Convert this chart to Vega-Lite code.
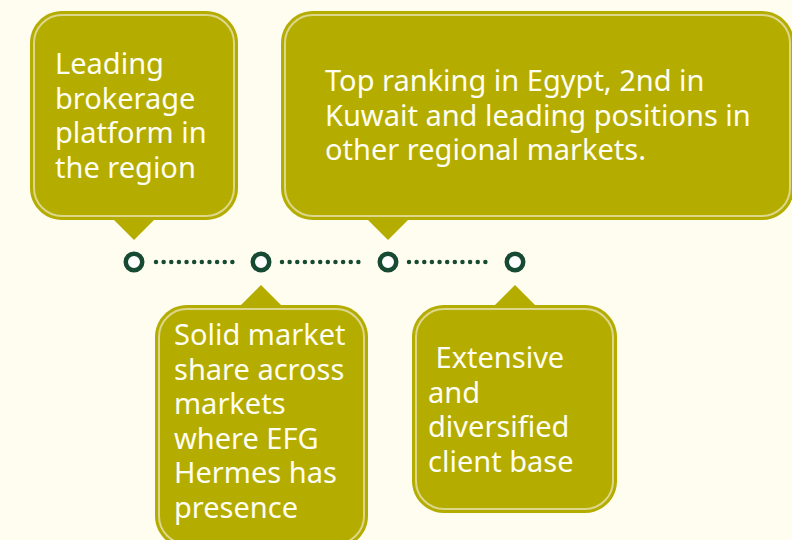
{
  "$schema": "https://vega.github.io/schema/vega-lite/v6.json",
  "width": 792,
  "height": 540,
  "padding": 0,
  "autosize": {"type": "fit", "contains": "padding"},
  "background": "#FFFDF0",
  "config": {"view": {"stroke": null}},
  "datasets": {
    "boxes": [
      {"id": "b1", "x": 30, "x2": 238, "y": 11, "y2": 220},
      {"id": "b2", "x": 281, "x2": 794, "y": 11, "y2": 220},
      {"id": "b3", "x": 155, "x2": 368, "y": 305, "y2": 548},
      {"id": "b4", "x": 412, "x2": 617, "y": 305, "y2": 513}
    ],
    "pointers": [
      {"id": "b1", "x": 134, "y": 219, "dir": "down"},
      {"id": "b2", "x": 388, "y": 219, "dir": "down"},
      {"id": "b3", "x": 261, "y": 306, "dir": "up"},
      {"id": "b4", "x": 515, "y": 306, "dir": "up"}
    ],
    "nodes": [
      {"x": 134, "y": 262},
      {"x": 261, "y": 262},
      {"x": 388, "y": 262},
      {"x": 515, "y": 262}
    ],
    "links": [
      {"x": 156, "x2": 240, "y": 262},
      {"x": 282, "x2": 366, "y": 262},
      {"x": 409, "x2": 493, "y": 262}
    ],
    "labels": [
      {"x": 55, "y": 74, "text": "Leading\nbrokerage\nplatform in\nthe region"},
      {"x": 325, "y": 91, "text": "Top ranking in Egypt, 2nd in\nKuwait and leading positions in\nother regional markets."},
      {"x": 174, "y": 345, "text": "Solid market\nshare across\nmarkets\nwhere EFG\nHermes has\npresence"},
      {"x": 428, "y": 368, "text": "\u200b\u00a0Extensive\nand\ndiversified\nclient base"}
    ]
  },
  "layer": [
    {
      "data": {"name": "boxes"},
      "mark": {"type": "rect", "fill": "#B5AC00", "cornerRadius": 32, "clip": true},
      "encoding": {
        "x": {"field": "x", "type": "quantitative", "scale": {"domain": [0, 792], "nice": false, "zero": false}, "axis": null},
        "x2": {"field": "x2"},
        "y": {"field": "y", "type": "quantitative", "scale": {"domain": [0, 540], "nice": false, "zero": false, "reverse": true}, "axis": null},
        "y2": {"field": "y2"}
      }
    },
    {
      "data": {"name": "boxes"},
      "mark": {"type": "rect", "fill": null, "fillOpacity": 0, "stroke": "#DCD78A", "strokeWidth": 2, "cornerRadius": 28, "xOffset": 4, "x2Offset": -4, "yOffset": 4, "y2Offset": -4, "clip": true},
      "encoding": {
        "x": {"field": "x", "type": "quantitative", "scale": {"domain": [0, 792], "nice": false, "zero": false}, "axis": null},
        "x2": {"field": "x2"},
        "y": {"field": "y", "type": "quantitative", "scale": {"domain": [0, 540], "nice": false, "zero": false, "reverse": true}, "axis": null},
        "y2": {"field": "y2"}
      }
    },
    {
      "data": {"name": "pointers"},
      "transform": [{"filter": "datum.dir === 'down'"}],
      "mark": {"type": "point", "filled": true, "fill": "#B5AC00", "strokeWidth": 0, "opacity": 1, "size": 1764, "shape": "M-1,0L1,0L0,1Z"},
      "encoding": {
        "x": {"field": "x", "type": "quantitative", "scale": {"domain": [0, 792], "nice": false, "zero": false}, "axis": null},
        "y": {"field": "y", "type": "quantitative", "scale": {"domain": [0, 540], "nice": false, "zero": false, "reverse": true}, "axis": null}
      }
    },
    {
      "data": {"name": "pointers"},
      "transform": [{"filter": "datum.dir === 'up'"}],
      "mark": {"type": "point", "filled": true, "fill": "#B5AC00", "strokeWidth": 0, "opacity": 1, "size": 1764, "shape": "M-1,0L1,0L0,-1Z"},
      "encoding": {
        "x": {"field": "x", "type": "quantitative", "scale": {"domain": [0, 792], "nice": false, "zero": false}, "axis": null},
        "y": {"field": "y", "type": "quantitative", "scale": {"domain": [0, 540], "nice": false, "zero": false, "reverse": true}, "axis": null}
      }
    },
    {
      "data": {"name": "links"},
      "mark": {"type": "rule", "stroke": "#174A33", "strokeWidth": 4.5, "strokeCap": "round", "strokeDash": [0.001, 7.636]},
      "encoding": {
        "x": {"field": "x", "type": "quantitative", "scale": {"domain": [0, 792], "nice": false, "zero": false}, "axis": null},
        "x2": {"field": "x2"},
        "y": {"field": "y", "type": "quantitative", "scale": {"domain": [0, 540], "nice": false, "zero": false, "reverse": true}, "axis": null}
      }
    },
    {
      "data": {"name": "nodes"},
      "mark": {"type": "point", "shape": "circle", "filled": false, "fill": "#FFFFFF", "fillOpacity": 1, "stroke": "#174A33", "strokeWidth": 4.5, "opacity": 1, "size": 272},
      "encoding": {
        "x": {"field": "x", "type": "quantitative", "scale": {"domain": [0, 792], "nice": false, "zero": false}, "axis": null},
        "y": {"field": "y", "type": "quantitative", "scale": {"domain": [0, 540], "nice": false, "zero": false, "reverse": true}, "axis": null}
      }
    },
    {
      "data": {"name": "labels"},
      "mark": {"type": "text", "align": "left", "baseline": "alphabetic", "font": "Noto Sans", "fontSize": 29, "lineHeight": 34.6, "fill": "#FFFEF2", "lineBreak": "\n"},
      "encoding": {
        "x": {"field": "x", "type": "quantitative", "scale": {"domain": [0, 792], "nice": false, "zero": false}, "axis": null},
        "y": {"field": "y", "type": "quantitative", "scale": {"domain": [0, 540], "nice": false, "zero": false, "reverse": true}, "axis": null},
        "text": {"field": "text"}
      }
    }
  ]
}
